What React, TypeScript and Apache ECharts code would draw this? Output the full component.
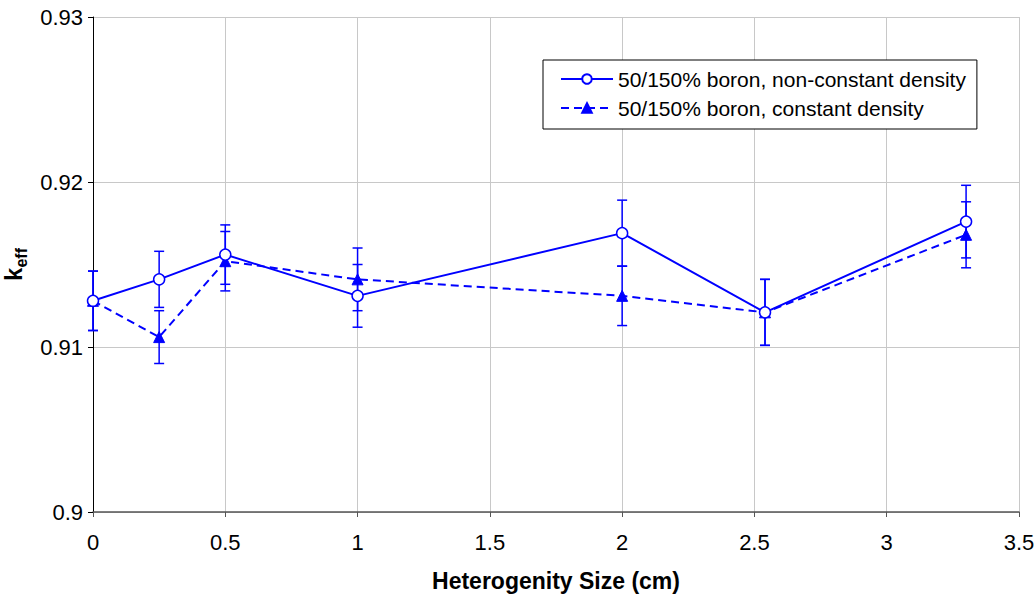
import React, { useEffect, useRef } from "react";
import * as echarts from "echarts";

const xValues = [0, 0.25, 0.5, 1, 2, 2.54, 3.3];
const nonConstant = [0.9128, 0.9141, 0.9156, 0.9131, 0.9169, 0.9121, 0.9176];
const nonConstantErr = [0.0018, 0.0017, 0.0018, 0.0019, 0.002, 0.002, 0.0022];
const constant = [0.9128, 0.9106, 0.9152, 0.9141, 0.9131, 0.9121, 0.9168];
const constantErr = [0.0018, 0.0016, 0.0018, 0.0019, 0.0018, 0.002, 0.002];
const seriesNames = [
  "50/150% boron, non-constant density",
  "50/150% boron, constant density",
];

const FONT = "'Liberation Sans', Arial, sans-serif";
const BLUE = "#0000ff";

function errorData(vals: number[], errs: number[]) {
  return xValues.map((x, i) => [x, vals[i] - errs[i], vals[i] + errs[i]]);
}

function errorSeries(vals: number[], errs: number[]) {
  return {
    type: "custom",
    z: 1,
    silent: true,
    data: errorData(vals, errs),
    encode: { x: 0, y: [1, 2] },
    renderItem: (params: any, api: any) => {
      const x = api.value(0);
      const lo = api.value(1);
      const hi = api.value(2);
      const top = api.coord([x, hi]);
      const bot = api.coord([x, lo]);
      const hw = 5;
      const style = { stroke: BLUE, lineWidth: 1.5 };
      return {
        type: "group",
        children: [
          { type: "line", shape: { x1: top[0], y1: top[1], x2: bot[0], y2: bot[1] }, style },
          { type: "line", shape: { x1: top[0] - hw, y1: top[1], x2: top[0] + hw, y2: top[1] }, style },
          { type: "line", shape: { x1: bot[0] - hw, y1: bot[1], x2: bot[0] + hw, y2: bot[1] }, style },
        ],
      };
    },
  };
}

export default function App() {
  const ref = useRef<HTMLDivElement>(null);
  useEffect(() => {
    if (!ref.current) return;
    const chart = echarts.init(ref.current, undefined, { renderer: "svg" });
    chart.setOption({
      animation: false,
      backgroundColor: "#ffffff",
      textStyle: { fontFamily: FONT },
      grid: {
        left: 93,
        right: 16,
        top: 17,
        bottom: 85,
        containLabel: false,
        outerBoundsMode: "none",
      },
      legend: {
        data: seriesNames,
        orient: "vertical",
        left: 543,
        top: 60,
        padding: [7, 11, 9, 17],
        itemGap: 5,
        itemWidth: 52,
        itemHeight: 12,
        backgroundColor: "#ffffff",
        borderColor: "#000000",
        borderWidth: 1,
        borderRadius: 0,
        textStyle: { fontFamily: FONT, fontSize: 21, color: "#000", lineHeight: 24 },
      },
      xAxis: {
        type: "value",
        min: 0,
        max: 3.5,
        interval: 0.5,
        name: "Heterogenity Size (cm)",
        nameLocation: "middle",
        nameGap: 57,
        nameTextStyle: { fontFamily: FONT, fontSize: 23, fontWeight: "bold", color: "#000" },
        axisLine: { show: true, onZero: false, lineStyle: { color: "#555555", width: 1.5 } },
        axisTick: { show: true, length: 5, lineStyle: { color: "#555555" } },
        axisLabel: { fontFamily: FONT, fontSize: 22, color: "#000", margin: 19 },
        splitLine: { show: true, lineStyle: { color: "#c8c8c8", width: 1 } },
      },
      yAxis: {
        type: "value",
        min: 0.9,
        max: 0.93,
        interval: 0.01,
        name: "{k|k}{s|eff}",
        nameLocation: "middle",
        nameGap: 55,
        nameRotate: 90,
        nameTextStyle: {
          fontFamily: FONT,
          color: "#000",
          rich: {
            k: { fontFamily: FONT, fontSize: 24, fontWeight: "bold", lineHeight: 32, verticalAlign: "middle" },
            s: { fontFamily: FONT, fontSize: 16, fontWeight: "bold", lineHeight: 16, verticalAlign: "bottom" },
          },
        },
        axisLine: { show: true, lineStyle: { color: "#000000", width: 1 } },
        axisTick: { show: true, length: 5, lineStyle: { color: "#000000" } },
        axisLabel: { fontFamily: FONT, fontSize: 22, color: "#000", margin: 10 },
        splitLine: { show: true, lineStyle: { color: "#c8c8c8", width: 1 } },
      },
      series: [
        errorSeries(nonConstant, nonConstantErr),
        errorSeries(constant, constantErr),
        {
          name: seriesNames[0],
          type: "line",
          z: 3,
          data: xValues.map((x, i) => [x, nonConstant[i]]),
          symbol: "circle",
          symbolSize: 11,
          itemStyle: { color: "#ffffff", borderColor: BLUE, borderWidth: 1.5 },
          lineStyle: { color: BLUE, width: 2 },
        },
        {
          name: seriesNames[1],
          type: "line",
          z: 2,
          data: xValues.map((x, i) => [x, constant[i]]),
          symbol: "triangle",
          symbolSize: 11,
          itemStyle: { color: BLUE, borderColor: BLUE, borderWidth: 1 },
          lineStyle: { color: BLUE, width: 2, type: [8, 5] },
        },
      ],
    });
    return () => chart.dispose();
  }, []);
  return (
    <div
      ref={ref}
      style={{ position: "absolute", left: 0, top: 0, width: 1035, height: 597 }}
    />
  );
}
